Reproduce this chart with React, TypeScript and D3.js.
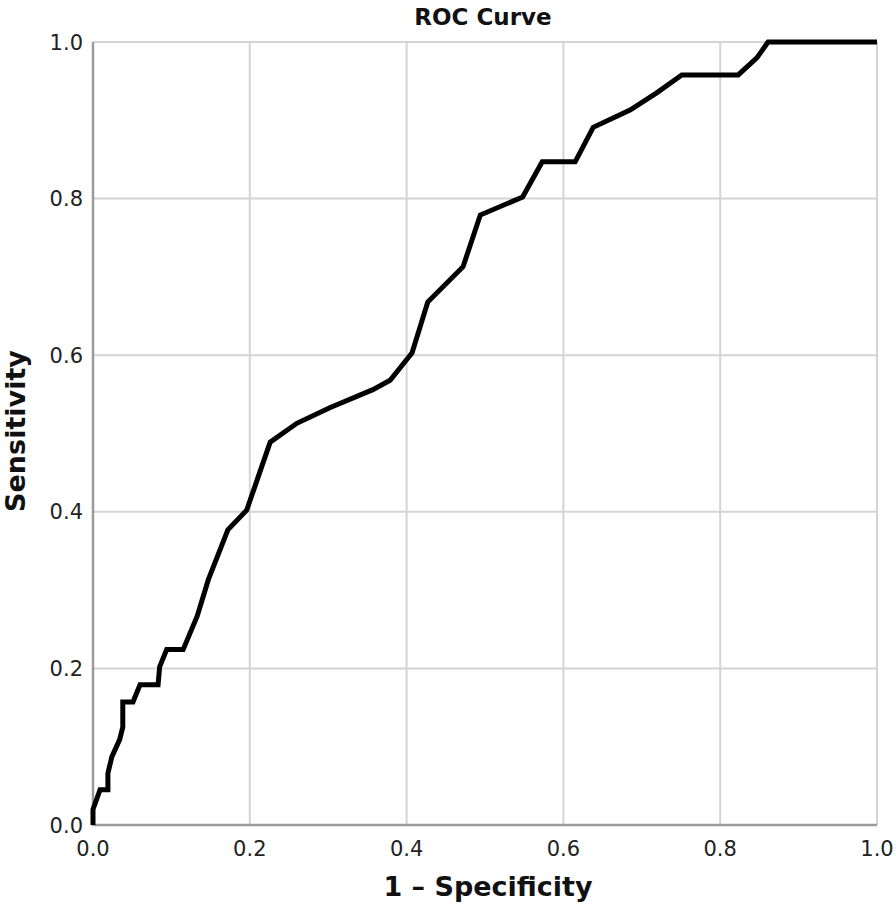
import React from "react";
import * as d3 from "d3";

const fpr = [0, 0.0, 0.009, 0.019, 0.019, 0.024, 0.034, 0.038, 0.038, 0.051, 0.06, 0.083, 0.085, 0.094, 0.115, 0.133, 0.147, 0.172, 0.196, 0.226, 0.26, 0.302, 0.357, 0.379, 0.407, 0.427, 0.472, 0.494, 0.548, 0.573, 0.615, 0.625, 0.638, 0.685, 0.719, 0.751, 0.823, 0.847, 0.861, 1.0];
const tpr = [0, 0.02, 0.045, 0.045, 0.066, 0.087, 0.109, 0.125, 0.157, 0.157, 0.179, 0.179, 0.202, 0.224, 0.224, 0.267, 0.313, 0.377, 0.402, 0.489, 0.513, 0.533, 0.556, 0.568, 0.603, 0.668, 0.713, 0.779, 0.802, 0.847, 0.847, 0.866, 0.891, 0.913, 0.935, 0.958, 0.958, 0.98, 1.0, 1.0];
const ticks = [0, 0.2, 0.4, 0.6, 0.8, 1.0];

const W = 896, H = 906;
const L = 93, R = 877, T = 42, B = 825;
const FONT = "'DejaVu Sans', 'Open Sans', sans-serif";

export default function App() {
  const x = d3.scaleLinear().domain([0, 1]).range([L, R]);
  const y = d3.scaleLinear().domain([0, 1]).range([B, T]);
  const pts = fpr.map((f, i) => [f, tpr[i]] as [number, number]);
  const line = d3.line<[number, number]>().x(d => x(d[0])).y(d => y(d[1]));
  return (
    <svg width={W} height={H} style={{ position: "absolute", left: 0, top: 0, background: "#fff" }}>
      <rect width={W} height={H} fill="#fff" />
      {ticks.map(t => (
        <g key={"g" + t}>
          <line x1={x(t)} x2={x(t)} y1={T} y2={B} stroke="#d4d4d4" strokeWidth={2} />
          <line x1={L} x2={R} y1={y(t)} y2={y(t)} stroke="#d4d4d4" strokeWidth={2} />
        </g>
      ))}
      <line x1={L} x2={L} y1={T} y2={B + 1} stroke="#9a9a9a" strokeWidth={2.5} />
      <line x1={L} x2={R} y1={B} y2={B} stroke="#9a9a9a" strokeWidth={2.5} />
      <path d={line(pts) || ""} fill="none" stroke="#000" strokeWidth={5} strokeLinejoin="miter" />
      {ticks.map(t => (
        <text key={"y" + t} x={L - 10} y={y(t)} dy="0.36em" textAnchor="end" fontFamily={FONT} fontSize={21} fill="#222">
          {t.toFixed(1)}
        </text>
      ))}
      {ticks.map(t => (
        <text key={"x" + t} x={x(t)} y={B + 31} textAnchor="middle" fontFamily={FONT} fontSize={21} fill="#222">
          {t.toFixed(1)}
        </text>
      ))}
      <text x={483} y={25} textAnchor="middle" fontFamily={FONT} fontSize={23} fontWeight="bold" fill="#111">ROC Curve</text>
      <text x={488} y={896} textAnchor="middle" fontFamily={FONT} fontSize={27} fontWeight="bold" fill="#111">1 – Specificity</text>
      <text transform={`translate(25, 431) rotate(-90)`} textAnchor="middle" fontFamily={FONT} fontSize={27} fontWeight="bold" fill="#111">Sensitivity</text>
    </svg>
  );
}
